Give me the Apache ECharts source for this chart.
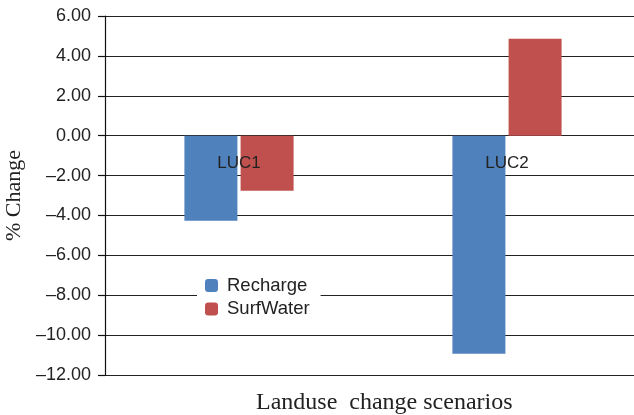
<!DOCTYPE html>
<html>
<head>
<meta charset="utf-8">
<title>Landuse change scenarios</title>
<script src="https://cdn.jsdelivr.net/npm/echarts@6/dist/echarts.min.js"></script>
<style>
  html, body { margin: 0; padding: 0; background: #fff; }
  #chart { width: 634px; height: 415px; }
</style>
</head>
<body>
<div id="chart"></div>
<script>
// scenarios and % change values
var categories = ['LUC1', 'LUC2'];
var recharge = [-4.26, -10.93];
var surfWater = [-2.76, 4.86];
var seriesNames = ['Recharge', 'SurfWater'];
var yMin = -12, yMax = 6;

var gridTop = 16, gridBottom = 40, chartH = 415;
// category labels sit on the zero line, like the excel original
var plotH = chartH - gridTop - gridBottom;
var zeroOffset = -plotH * (0 - yMin) / (yMax - yMin);

var chart = echarts.init(document.getElementById('chart'));
chart.setOption({
    animation: false,
    backgroundColor: '#fff',
    title: {
        text: 'Landuse  change scenarios',
        left: 256,
        top: 391,
        padding: 0,
        textStyle: {
            fontFamily: 'Liberation Serif',
            fontWeight: 'normal',
            fontSize: 24,
            color: '#222'
        }
    },
    legend: {
        data: seriesNames,
        orient: 'vertical',
        left: 197,
        top: 271,
        padding: [5, 11, 5, 8],
        backgroundColor: '#fff',
        itemWidth: 13,
        itemHeight: 13,
        itemGap: 4.5,
        itemTextGap: 9,
        textStyle: {
            fontFamily: 'Liberation Sans',
            fontSize: 18.5,
            color: '#222',
            padding: [0, 0, 0, 4]
        }
    },
    grid: {
        left: 105,
        right: -7,
        top: gridTop,
        bottom: gridBottom,
        outerBoundsMode: 'none'
    },
    xAxis: {
        type: 'category',
        data: categories,
        z: 10,
        offset: zeroOffset,
        axisLine: { show: false, onZero: false },
        axisTick: { show: false },
        axisLabel: {
            margin: 19,
            fontFamily: 'Liberation Sans',
            fontSize: 17,
            color: '#222'
        }
    },
    yAxis: {
        type: 'value',
        min: yMin,
        max: yMax,
        interval: 2,
        name: '% Change',
        nameLocation: 'middle',
        nameGap: 80,
        nameTextStyle: {
            fontFamily: 'Liberation Serif',
            fontSize: 22,
            color: '#222'
        },
        axisLine: { show: true, lineStyle: { color: '#111', width: 1.2 } },
        axisTick: { show: true, length: 7, lineStyle: { color: '#111', width: 1.2 } },
        axisLabel: {
            margin: 14,
            fontFamily: 'Liberation Sans',
            fontSize: 18,
            color: '#222',
            formatter: function (v) {
                return v.toFixed(2).replace('-', '\u2013');
            }
        },
        splitLine: { show: true, lineStyle: { color: '#222', width: 1.2 } }
    },
    series: [
        {
            name: seriesNames[0],
            type: 'bar',
            data: recharge,
            barWidth: 53,
            barGap: '6%',
            itemStyle: { color: '#4F81BD' }
        },
        {
            name: seriesNames[1],
            type: 'bar',
            data: surfWater,
            barWidth: 53,
            itemStyle: { color: '#C0504D' }
        }
    ]
});
</script>
</body>
</html>
